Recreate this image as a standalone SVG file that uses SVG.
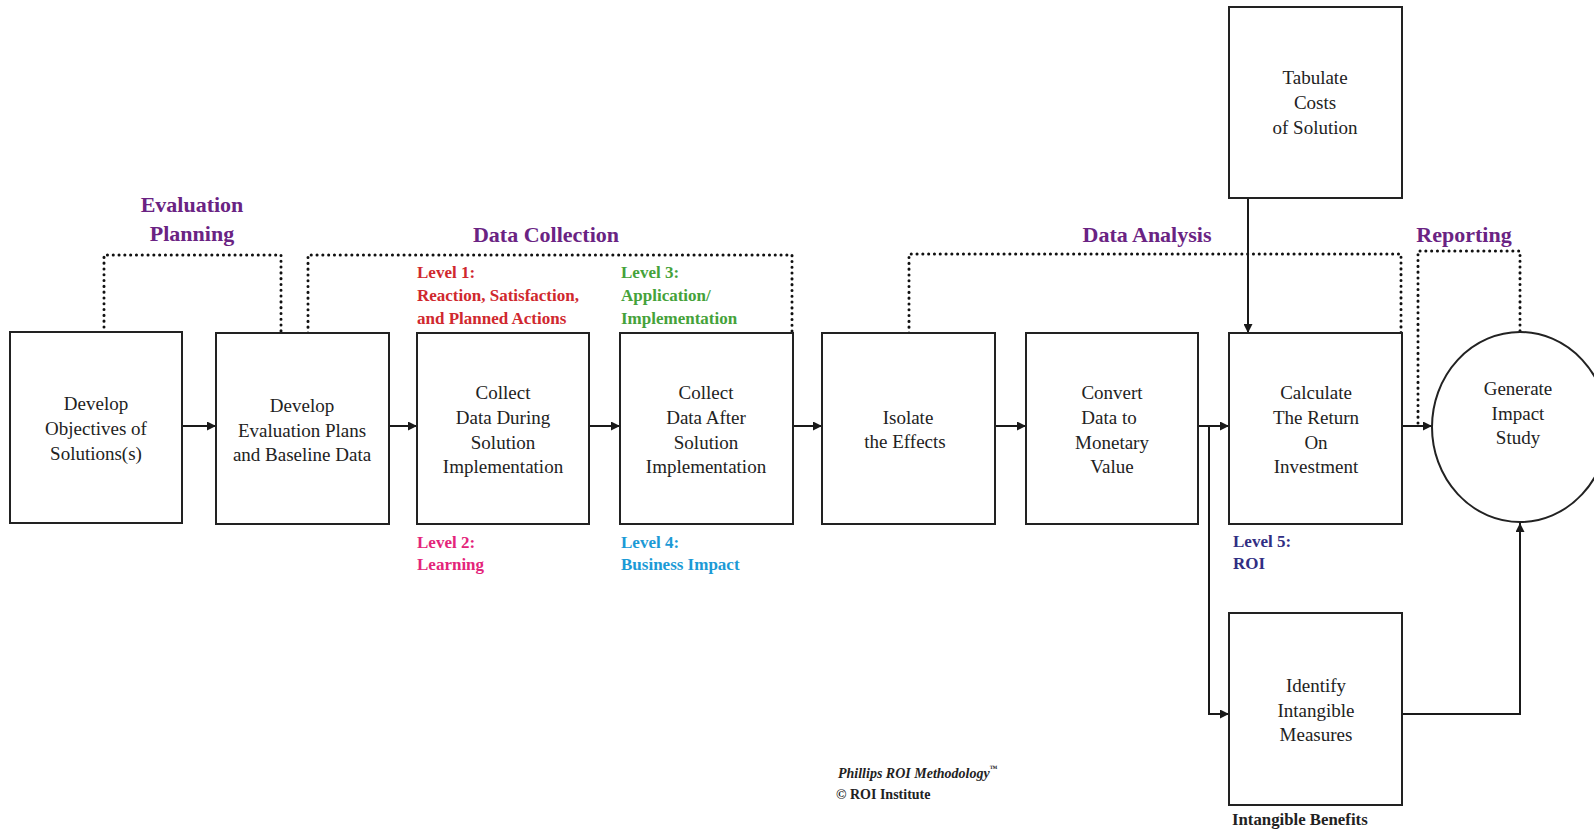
<svg xmlns="http://www.w3.org/2000/svg" width="1594" height="832" viewBox="0 0 1594 832">
<defs>
<marker id="arr" viewBox="0 0 10 10" refX="10" refY="5" markerWidth="9" markerHeight="9" markerUnits="userSpaceOnUse" orient="auto">
<path d="M0,0 L10,5 L0,10 z" fill="#1a1a1a"/>
</marker>
<style>
.box{fill:#fff;stroke:#222;stroke-width:2}
.t{font-family:"Liberation Serif","Times New Roman",serif;font-size:19px;fill:#222;text-anchor:middle}
.h{font-family:"Liberation Serif","Times New Roman",serif;font-size:22px;font-weight:bold;fill:#6a2383;text-anchor:middle}
.lv{font-family:"Liberation Serif","Times New Roman",serif;font-size:17px;font-weight:bold}
.l1{fill:#d0282e}.l2{fill:#e4247a}.l3{fill:#45a23a}.l4{fill:#1b9ad6}.l5{fill:#312e83}
.con{fill:none;stroke:#1a1a1a;stroke-width:2}
.dot{fill:none;stroke:#111;stroke-width:3;stroke-linecap:round;stroke-dasharray:0.1 5.7}
.ft{font-family:"Liberation Serif","Times New Roman",serif;font-size:14px;font-weight:bold;fill:#222}
</style>
</defs>
<rect width="1594" height="832" fill="#fff"/>

<g id="headers">
<text class="h" x="192" y="212">Evaluation</text>
<text class="h" x="192" y="241">Planning</text>
<text class="h" x="546" y="242">Data Collection</text>
<text class="h" x="1147" y="242">Data Analysis</text>
<text class="h" x="1464" y="242">Reporting</text>
</g>

<g id="brackets">
<path class="dot" d="M104,327 V255 H281 V333"/>
<path class="dot" d="M308,333 V255 H792 V333"/>
<path class="dot" d="M909,333 V254 H1401 V333"/>
<path class="dot" d="M1418,423 V251 H1520 V332"/>
</g>

<g id="connectors">
<path class="con" d="M182,426 H216" marker-end="url(#arr)"/>
<path class="con" d="M389,426 H417" marker-end="url(#arr)"/>
<path class="con" d="M589,426 H620" marker-end="url(#arr)"/>
<path class="con" d="M793,426 H822" marker-end="url(#arr)"/>
<path class="con" d="M995,426 H1026" marker-end="url(#arr)"/>
<path class="con" d="M1198,426 H1229" marker-end="url(#arr)"/>
<path class="con" d="M1209,426 V714 H1229" marker-end="url(#arr)"/>
<path class="con" d="M1248,198 V333" marker-end="url(#arr)"/>
<path class="con" d="M1403,426 H1432" marker-end="url(#arr)"/>
<path class="con" d="M1403,714 H1520 V523" marker-end="url(#arr)"/>
</g>

<g id="n1">
<rect class="box" x="10" y="332" width="172" height="191"/>
<text class="t" x="96" y="410">Develop</text>
<text class="t" x="96" y="435">Objectives of</text>
<text class="t" x="96" y="460">Solutions(s)</text>
</g>
<g id="n2">
<rect class="box" x="216" y="333" width="173" height="191"/>
<text class="t" x="302" y="412">Develop</text>
<text class="t" x="302" y="437">Evaluation Plans</text>
<text class="t" x="302" y="461">and Baseline Data</text>
</g>
<g id="n3">
<rect class="box" x="417" y="333" width="172" height="191"/>
<text class="t" x="503" y="399">Collect</text>
<text class="t" x="503" y="424">Data During</text>
<text class="t" x="503" y="449">Solution</text>
<text class="t" x="503" y="473">Implementation</text>
</g>
<g id="n4">
<rect class="box" x="620" y="333" width="173" height="191"/>
<text class="t" x="706" y="399">Collect</text>
<text class="t" x="706" y="424">Data After</text>
<text class="t" x="706" y="449">Solution</text>
<text class="t" x="706" y="473">Implementation</text>
</g>
<g id="n5">
<rect class="box" x="822" y="333" width="173" height="191"/>
<text class="t" x="908" y="424">Isolate</text>
<text class="t" x="905" y="448">the Effects</text>
</g>
<g id="n6">
<rect class="box" x="1026" y="333" width="172" height="191"/>
<text class="t" x="1112" y="399">Convert</text>
<text class="t" x="1109" y="424">Data to</text>
<text class="t" x="1112" y="449">Monetary</text>
<text class="t" x="1112" y="473">Value</text>
</g>
<g id="n7">
<rect class="box" x="1229" y="7" width="173" height="191"/>
<text class="t" x="1315" y="84">Tabulate</text>
<text class="t" x="1315" y="109">Costs</text>
<text class="t" x="1315" y="134">of Solution</text>
</g>
<g id="n8">
<rect class="box" x="1229" y="333" width="173" height="191"/>
<text class="t" x="1316" y="399">Calculate</text>
<text class="t" x="1316" y="424">The Return</text>
<text class="t" x="1316" y="449">On</text>
<text class="t" x="1316" y="473">Investment</text>
</g>
<g id="n9">
<rect class="box" x="1229" y="613" width="173" height="192"/>
<text class="t" x="1316" y="692">Identify</text>
<text class="t" x="1316" y="717">Intangible</text>
<text class="t" x="1316" y="741">Measures</text>
</g>
<g id="n10">
<ellipse class="box" cx="1520" cy="427" rx="88" ry="95"/>
<text class="t" x="1518" y="395">Generate</text>
<text class="t" x="1518" y="420">Impact</text>
<text class="t" x="1518" y="444">Study</text>
</g>

<g id="levels">
<text class="lv l1" x="417" y="278">Level 1:</text>
<text class="lv l1" x="417" y="301">Reaction, Satisfaction,</text>
<text class="lv l1" x="417" y="324">and Planned Actions</text>
<text class="lv l3" x="621" y="278">Level 3:</text>
<text class="lv l3" x="621" y="301">Application/</text>
<text class="lv l3" x="621" y="324">Implementation</text>
<text class="lv l2" x="417" y="548">Level 2:</text>
<text class="lv l2" x="417" y="570">Learning</text>
<text class="lv l4" x="621" y="548">Level 4:</text>
<text class="lv l4" x="621" y="570">Business Impact</text>
<text class="lv l5" x="1233" y="547">Level 5:</text>
<text class="lv l5" x="1233" y="569">ROI</text>
<text class="lv" x="1232" y="825" fill="#222" style="font-size:16.8px">Intangible Benefits</text>
</g>

<g id="footer">
<text class="ft" x="838" y="778" font-style="italic">Phillips ROI Methodology<tspan dy="-7" style="font-size:8px;font-style:normal">™</tspan></text>
<text class="ft" x="836" y="799">© ROI Institute</text>
</g>
</svg>
